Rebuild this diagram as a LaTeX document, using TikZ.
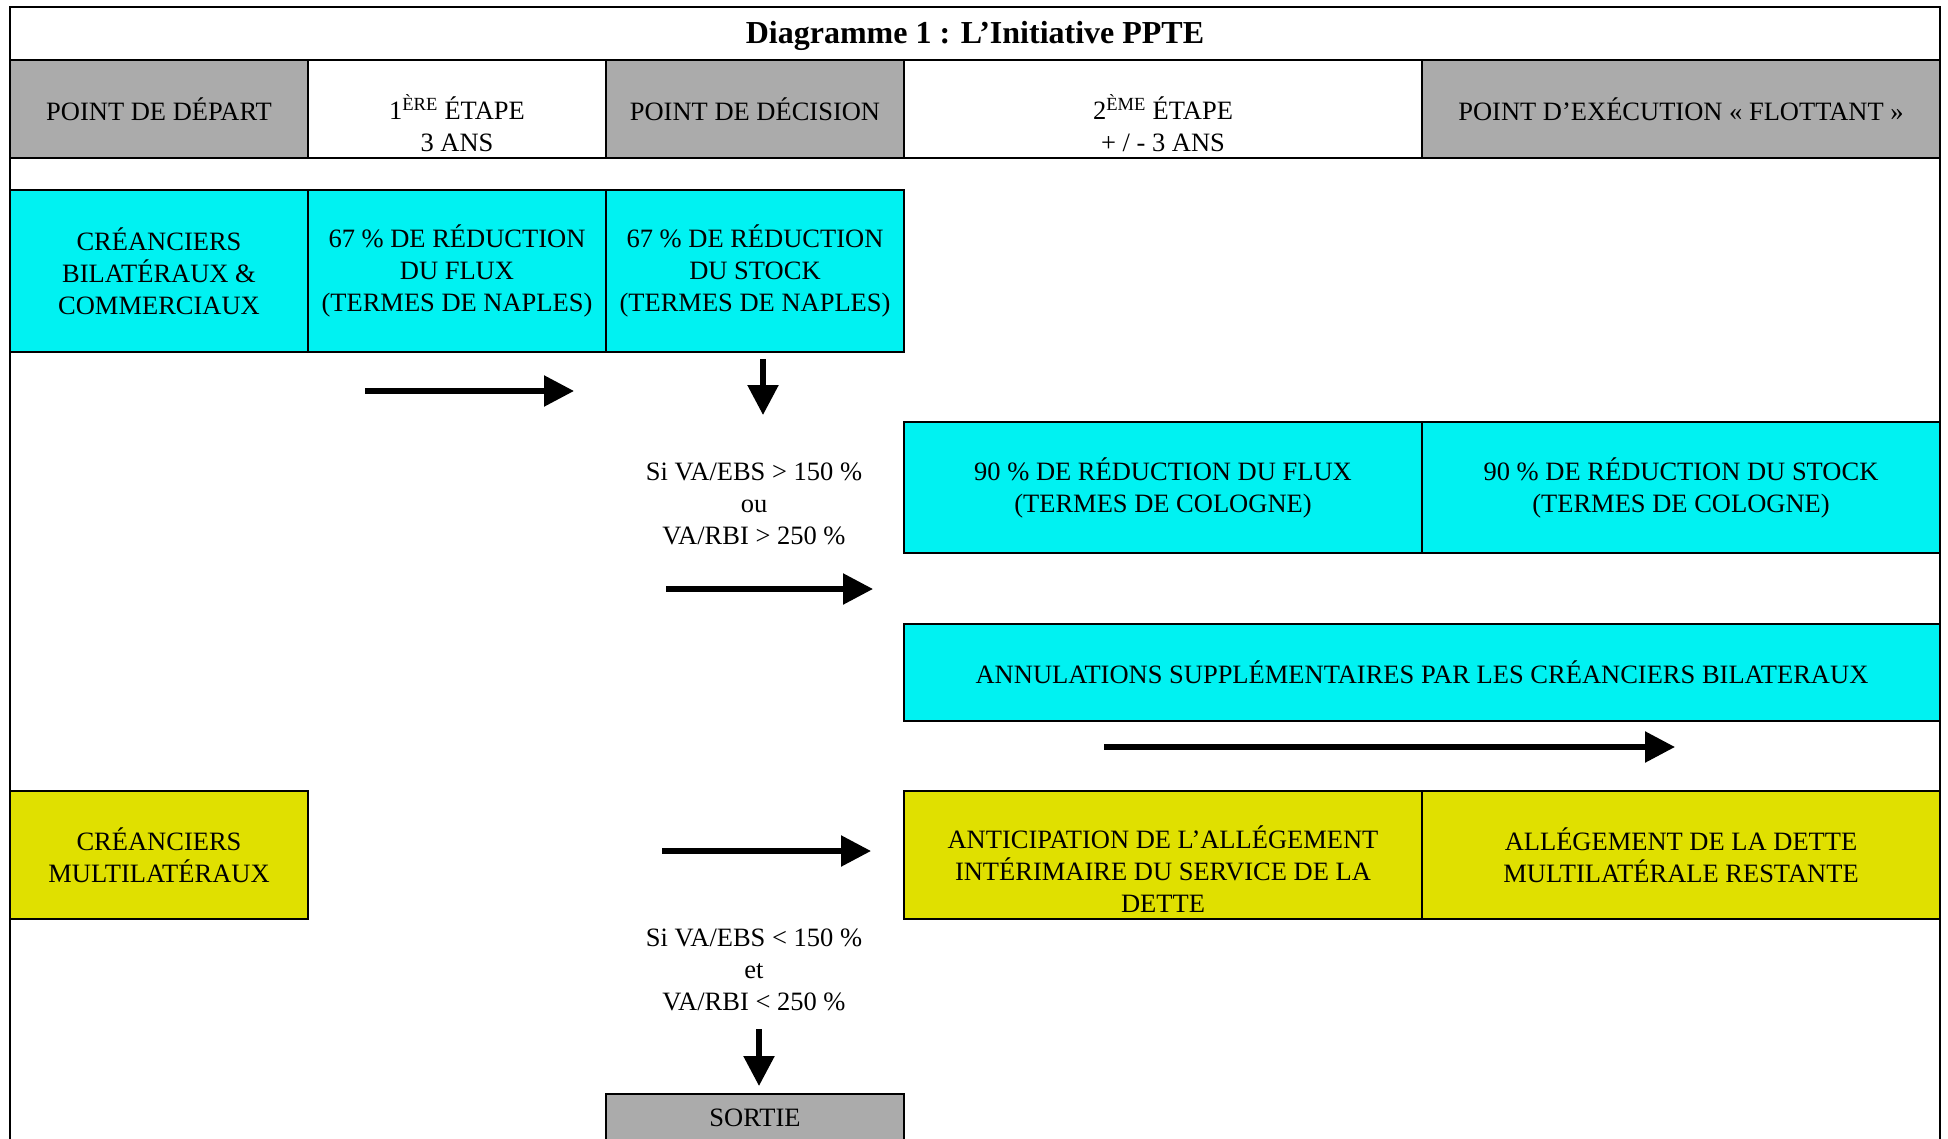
\documentclass[tikz,border=0pt]{standalone}
\usepackage{fontspec}
\setmainfont{Liberation Serif}
\usetikzlibrary{arrows.meta}
\definecolor{ppcyan}{RGB}{0,242,242}
\definecolor{ppyellow}{RGB}{224,224,0}
\definecolor{ppgray}{RGB}{171,171,171}
\tikzset{
 cell/.style={draw, line width=1.5pt, inner sep=0pt, outer sep=0pt, align=center,
  font=\fontsize{26.5}{32}\selectfont},
 cond/.style={align=center, inner sep=0pt, font=\fontsize{26.5}{32}\selectfont},
 fleche/.style={line width=5.5pt, -{Triangle[length=30pt,width=30pt]}},
}
\newcommand{\haut}[1]{\rule{0pt}{#1}}
\newcommand{\bas}[1]{\rule[-#1]{0pt}{#1}}
\begin{document}
\begin{tikzpicture}[x=1pt,y=-1pt]
 \useasboundingbox (0,0) rectangle (1948,1139);
 \draw[line width=2pt] (10,1139)--(10,7)--(1940,7)--(1940,1139); %cadre
 \node[font=\fontsize{32}{36}\bfseries] (titre) at (975,36) {Diagramme 1 : L’Initiative PPTE}; %titre

 %en-tete
 \node[cell,fill=ppgray,minimum width=298,minimum height=98] (hdep) at (159,109) {POINT DE DÉPART};
 \node[cell,fill=white,minimum width=298,minimum height=98] (hetape1) at (457,109) {\haut{27pt}\\1\textsuperscript{ÈRE} ÉTAPE\\3 ANS\bas{5pt}};
 \node[cell,fill=ppgray,minimum width=298,minimum height=98] (hdec) at (755,109) {POINT DE DÉCISION};
 \node[cell,fill=white,minimum width=518,minimum height=98] (hetape2) at (1163,109) {\haut{27pt}\\2\textsuperscript{ÈME} ÉTAPE\\+ / - 3 ANS\bas{5pt}};
 \node[cell,fill=ppgray,minimum width=518,minimum height=98] (hexe) at (1681,109) {POINT D’EXÉCUTION «~FLOTTANT~»};

 %creanciers bilateraux
 \node[cell,fill=ppcyan,minimum width=298,minimum height=162] (bilat) at (159,271) {CRÉANCIERS\\BILATÉRAUX \&\\COMMERCIAUX};
 \node[cell,fill=ppcyan,minimum width=298,minimum height=162] (flux1) at (457,271) {67 \% DE RÉDUCTION\\DU FLUX\\(TERMES DE NAPLES)};
 \node[cell,fill=ppcyan,minimum width=298,minimum height=162] (stock1) at (755,271) {67 \% DE RÉDUCTION\\DU STOCK\\(TERMES DE NAPLES)};
 \node[cell,fill=ppcyan,minimum width=518,minimum height=131] (flux2) at (1163,487.5) {90 \% DE RÉDUCTION DU FLUX\\(TERMES DE COLOGNE)};
 \node[cell,fill=ppcyan,minimum width=518,minimum height=131] (stock2) at (1681,487.5) {90 \% DE RÉDUCTION DU STOCK\\(TERMES DE COLOGNE)};
 \node[cell,fill=ppcyan,minimum width=1036,minimum height=97] (annul) at (1422,672.5) {ANNULATIONS SUPPLÉMENTAIRES PAR LES CRÉANCIERS BILATERAUX};

 %creanciers multilateraux
 \node[cell,fill=ppyellow,minimum width=298,minimum height=128] (multi) at (159,855) {CRÉANCIERS\\MULTILATÉRAUX};
 \node[cell,fill=ppyellow,minimum width=518,minimum height=128] (antic) at (1163,855) {\haut{24pt}\\ANTICIPATION DE L’ALLÉGEMENT\\INTÉRIMAIRE DU SERVICE DE LA\\DETTE\bas{6pt}};
 \node[cell,fill=ppyellow,minimum width=518,minimum height=128] (reste) at (1681,855) {ALLÉGEMENT DE LA DETTE\\MULTILATÉRALE RESTANTE};
 \node[cell,fill=ppgray,minimum width=298,minimum height=48] (sortie) at (755,1118) {SORTIE};

 %conditions
 \node[cond] (cond1) at (754,504) {Si VA/EBS > 150 \%\\ou\\VA/RBI > 250 \%};
 \node[cond] (cond2) at (754,970) {Si VA/EBS < 150 \%\\et\\VA/RBI < 250 \%};

 %fleches
 \coordinate (f1a) at (365,391); \coordinate (f1b) at (574,391); %etape 1
 \coordinate (d1a) at (763,359); \coordinate (d1b) at (763,415); %decision
 \coordinate (f2a) at (666,589); \coordinate (f2b) at (873,589); %vers Cologne
 \coordinate (f3a) at (1104,747); \coordinate (f3b) at (1675,747); %annulations
 \coordinate (f4a) at (662,851); \coordinate (f4b) at (871,851); %multilateraux
 \coordinate (d2a) at (759,1029); \coordinate (d2b) at (759,1086); %sortie
 \draw[fleche] (f1a)--(f1b);
 \draw[fleche] (d1a)--(d1b);
 \draw[fleche] (f2a)--(f2b);
 \draw[fleche] (f3a)--(f3b);
 \draw[fleche] (f4a)--(f4b);
 \draw[fleche] (d2a)--(d2b);
\end{tikzpicture}
\end{document}
